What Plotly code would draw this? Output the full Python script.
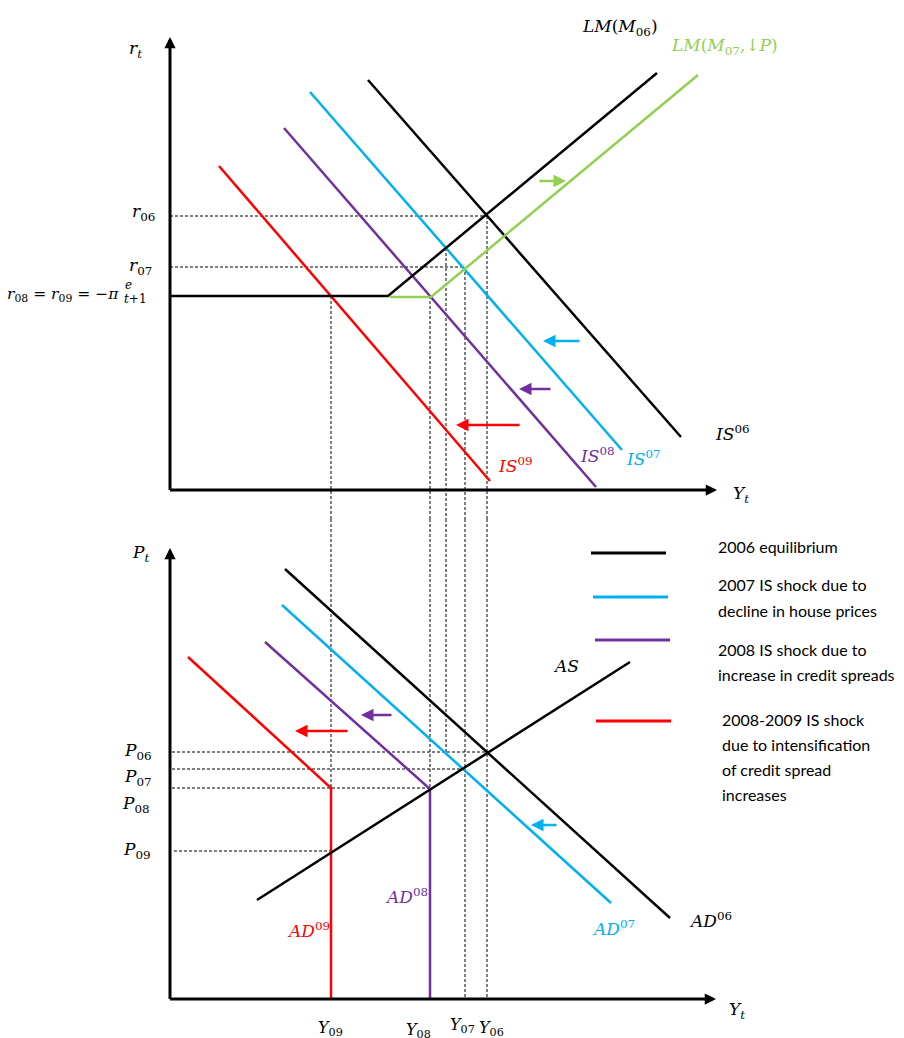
import plotly.graph_objects as go

# ---------------- colours ----------------
BLACK = "#000000"
CYAN = "#00B0F0"
PURPLE = "#7030A0"
RED = "#FF0000"
GREEN = "#92D050"

# ---------------- top panel (IS-LM): x = output Y, y = real rate r ----------------
IS06_x = [198, 511]; IS06_y = [410, 53]
IS07_x = [140, 452]; IS07_y = [398, 40]
IS08_x = [114, 426]; IS08_y = [362, 3]
IS09_x = [49, 320];  IS09_y = [324, 9]
LM06_x = [0, 218, 487]; LM06_y = [194, 194, 417]
LM07_x = [220, 261, 528]; LM07_y = [193, 193, 415]

r06, r07, r08 = 274, 223, 194
r_mid = 242           # IS07 x LM06

# output levels (shared by both panels)
Y09, Y08, Ymid, Y07, Y06 = 161, 260, 276, 295, 317

# ---------------- bottom panel (AD-AS): x = output Y, y = price level P ----------------
AD06_x = [115, 500]; AD06_y = [430, 81]
AD07_x = [112, 441]; AD07_y = [394, 96]
AD08_x = [95, 260, 260]; AD08_y = [357, 210, 0]
AD09_x = [18, 161, 161]; AD09_y = [342, 211, 0]
AS_x = [87, 460]; AS_y = [99, 337]

P06, P07, P08, P09 = 247, 230, 211, 148

TOP_YMIN, TOP_YMAX = -29, 490
BOT_YMIN, BOT_YMAX = -39, 480
XMIN, XMAX = -170, 734

legend_labels = [
    ("2006 equilibrium",), ("2007 IS shock due to", "decline in house prices"),
    ("2008 IS shock due to", "increase in credit spreads"),
    ("2008-2009 IS shock", "due to intensification", "of credit spread", "increases"),
]
legend_colors = [BLACK, CYAN, PURPLE, RED]
legend_line_x = [[421, 496], [423, 498], [425, 500], [426, 501]]
legend_line_y = [446, 402, 359, 278]
legend_text_x = [546, 546, 546, 550]
legend_text_y = [[453], [415, 389], [350, 325], [280, 255, 230, 205]]

fig = go.Figure()

def line(x, y, color, width=2.5, dash=None, panel=1):
    fig.add_trace(go.Scatter(
        x=x, y=y, mode="lines",
        line=dict(color=color, width=width, dash=dash),
        xaxis="x" if panel == 1 else "x2", yaxis="y" if panel == 1 else "y2",
        hoverinfo="skip", showlegend=False))

DASH = "3px,2px"
# ---- dashed guides, top panel
line([0, Y06], [r06, r06], BLACK, 1, DASH)
line([0, Y07], [r07, r07], BLACK, 1, DASH)
for xv, yv in [(Y09, r08), (Y08, r08), (Ymid, r_mid), (Y07, r07), (Y06, r06)]:
    line([xv, xv], [yv, TOP_YMIN], BLACK, 1, DASH)
# ---- dashed guides, bottom panel
for xv, yv in [(Y09, P08), (Y08, P08), (Ymid, P06), (Y07, 0), (Y06, 0)]:
    line([xv, xv], [BOT_YMAX, yv], BLACK, 1, DASH, panel=2)
line([2, Y06], [P06, P06], BLACK, 1, DASH, panel=2)
line([2, Y07], [P07, P07], BLACK, 1, DASH, panel=2)
line([2, Y08], [P08, P08], BLACK, 1, DASH, panel=2)
line([4, Y09], [P09, P09], BLACK, 1, DASH, panel=2)

# ---- top curves
line(IS06_x, IS06_y, BLACK)
line(IS07_x, IS07_y, CYAN)
line(IS08_x, IS08_y, PURPLE)
line(IS09_x, IS09_y, RED)
line(LM07_x, LM07_y, GREEN)
line(LM06_x, LM06_y, BLACK)

# ---- bottom curves
line(AD06_x, AD06_y, BLACK, panel=2)
line(AD07_x, AD07_y, CYAN, panel=2)
line(AD08_x, AD08_y, PURPLE, panel=2)
line(AD09_x, AD09_y, RED, panel=2)
line(AS_x, AS_y, BLACK, panel=2)

# ---- legend lines
for lx, ly, c in zip(legend_line_x, legend_line_y, legend_colors):
    line(lx, [ly, ly], c, 3, panel=2)

ann = []

def arrow(x0, y0, x1, y1, color, width=2.5, size=1.0, panel=1):
    xr = "x" if panel == 1 else "x2"
    yr = "y" if panel == 1 else "y2"
    ann.append(dict(x=x1, y=y1, ax=x0, ay=y0, xref=xr, yref=yr, axref=xr, ayref=yr,
                    text="", showarrow=True, arrowhead=2, arrowsize=size,
                    arrowwidth=width, arrowcolor=color, standoff=0, startstandoff=0))

# axes with arrowheads
arrow(0, -1.5, 0, 453, BLACK, 3, 0.75)
arrow(-1.5, 0, 547, 0, BLACK, 3, 0.75)
arrow(0, -1.5, 0, 451, BLACK, 3, 0.75, panel=2)
arrow(-1.5, 0, 546, 0, BLACK, 3, 0.75, panel=2)

# shift arrows
arrow(368, 309, 396, 309, GREEN)
arrow(411, 149, 373, 149, CYAN)
arrow(382, 101, 349, 101, PURPLE)
arrow(351, 65, 286, 65, RED)
arrow(223, 284, 191, 284, PURPLE, panel=2)
arrow(179, 268, 125, 268, RED, panel=2)
arrow(388, 174, 361, 174, CYAN, panel=2)

MATH = "DejaVu Serif"
MS = 17

def label(x, y, text, color=BLACK, size=MS, panel=1, xanchor="center", font=MATH):
    xr = "x" if panel == 1 else "x2"
    yr = "y" if panel == 1 else "y2"
    ann.append(dict(x=x, y=y, xref=xr, yref=yr, text=text, showarrow=False,
                    xanchor=xanchor, yanchor="middle",
                    font=dict(family=font, size=size, color=color)))

def v(s):
    return "<i>" + s + "</i>"

# top labels
label(-35, 441, v("r") + "<sub>" + v("t") + "</sub>")
label(-27, 278, v("r") + "<sub>06</sub>")
label(-30, 224, v("r") + "<sub>07</sub>")
label(-49, 195, v("r") + "<sub>08</sub> = " + v("r") + "<sub>09</sub> = −" + v("π"),
      xanchor="right", size=15.5)
label(-48, 191, v("t") + "+1", xanchor="left", size=12)
label(-47, 205, v("e"), xanchor="left", size=12)
label(450, 463, v("LM") + "(" + v("M") + "<sub>06</sub>)")
label(554, 444, v("LM") + "(" + v("M") + "<sub>07</sub>,↓" + v("P") + ")", color=GREEN)
label(562, 57, v("IS") + "<sup>06</sup>")
label(473, 32, v("IS") + "<sup>07</sup>", color=CYAN)
label(427, 35, v("IS") + "<sup>08</sup>", color=PURPLE)
label(345, 25, v("IS") + "<sup>09</sup>", color=RED)
label(571, -4, v("Y") + "<sub>" + v("t") + "</sub>")

# bottom labels
label(-30, 446, v("P") + "<sub>" + v("t") + "</sub>", panel=2)
label(-32, 248, v("P") + "<sub>06</sub>", panel=2)
label(-32, 222, v("P") + "<sub>07</sub>", panel=2)
label(-34, 195, v("P") + "<sub>08</sub>", panel=2)
label(-33, 149, v("P") + "<sub>09</sub>", panel=2)
label(396, 333, v("AS"), panel=2)
label(540, 79, v("AD") + "<sup>06</sup>", panel=2)
label(443, 71, v("AD") + "<sup>07</sup>", color=CYAN, panel=2)
label(236, 103, v("AD") + "<sup>08</sup>", color=PURPLE, panel=2)
label(138, 69, v("AD") + "<sup>09</sup>", color=RED, panel=2)
label(567, -11, v("Y") + "<sub>" + v("t") + "</sub>", panel=2)
label(160, -29, v("Y") + "<sub>09</sub>", panel=2, size=16)
label(248, -31, v("Y") + "<sub>08</sub>", panel=2, size=16)
label(292, -26, v("Y") + "<sub>07</sub>", panel=2, size=16)
label(321, -29, v("Y") + "<sub>06</sub>", panel=2, size=16)

# legend text
for lines_, tx, tys in zip(legend_labels, legend_text_x, legend_text_y):
    for t, ty in zip(lines_, tys):
        label(tx, ty, t, panel=2, xanchor="left", size=16, font="Lato")

fig.update_layout(
    width=904, height=1038,
    margin=dict(l=0, r=0, t=0, b=0),
    paper_bgcolor="white", plot_bgcolor="white",
    showlegend=False,
    annotations=ann,
    xaxis=dict(domain=[0, 1], range=[XMIN, XMAX], visible=False, anchor="y", fixedrange=True),
    yaxis=dict(domain=[0.5, 1], range=[TOP_YMIN, TOP_YMAX], visible=False, anchor="x", fixedrange=True),
    xaxis2=dict(domain=[0, 1], range=[XMIN, XMAX], visible=False, anchor="y2", fixedrange=True),
    yaxis2=dict(domain=[0, 0.5], range=[BOT_YMIN, BOT_YMAX], visible=False, anchor="x2", fixedrange=True),
)

fig.write_html("out.html", config={"displayModeBar": False},
               post_script="document.body.style.margin='0';")
